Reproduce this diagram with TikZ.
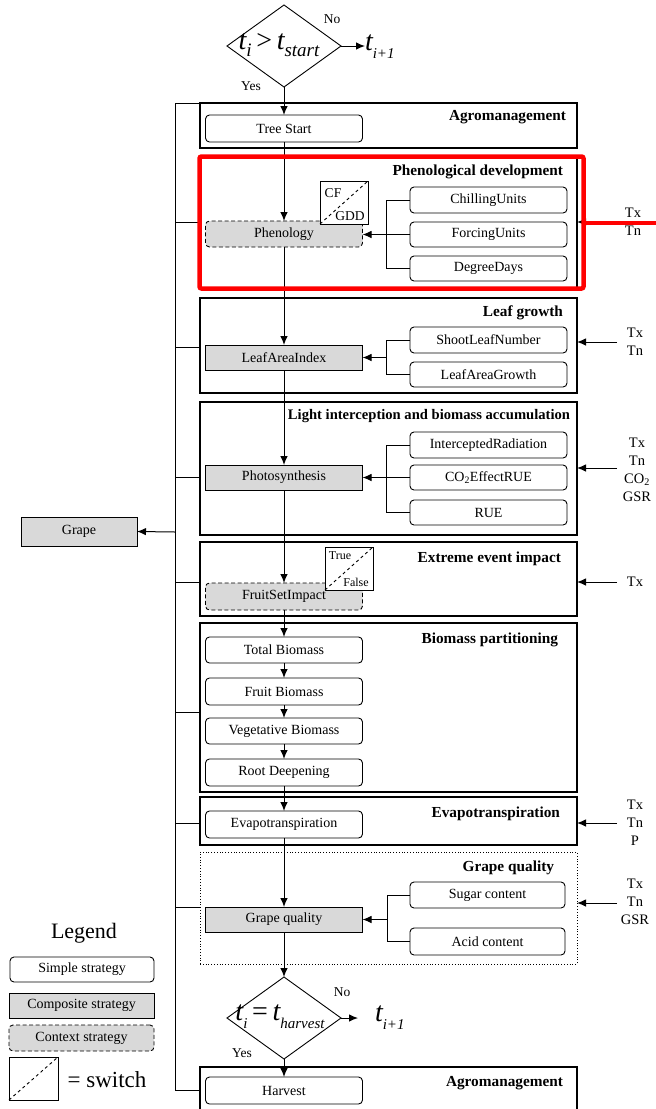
\documentclass[tikz,border=0pt]{standalone}
\usepackage{fontspec}
\setmainfont{Liberation Serif}
\usetikzlibrary{shapes.geometric,arrows.meta}
\definecolor{boxgray}{RGB}{217,217,217}
\definecolor{hlred}{RGB}{255,0,0}
\newcommand\mysub[2]{\raisebox{-0.28em}{\fontsize{#1}{#1}\selectfont\itshape #2}}
\begin{document}
\begin{tikzpicture}[x=1pt,y=-1pt,
  every node/.style={inner sep=0pt,outer sep=0pt},
  base/.style={line width=0.9pt,minimum width=157pt,minimum height=26pt,font=\fontsize{14}{16}\selectfont},
  simple/.style={base,draw,rounded corners=4pt,fill=white},
  composite/.style={base,draw,fill=boxgray},
  context/.style={base,draw,fill=boxgray,rounded corners=4pt,dash pattern=on 4pt off 2.5pt},
  switchbox/.style={draw,fill=white,line width=0.9pt,minimum width=48pt,minimum height=43pt},
  section/.style={draw,line width=1.2pt,minimum width=377pt},
  title/.style={anchor=east,font=\bfseries\fontsize{15.3}{17}\selectfont},
  inputs/.style={align=center,font=\fontsize{14.5}{18}\selectfont},
  small/.style={font=\fontsize{13.5}{15}\selectfont},
  tiny/.style={font=\fontsize{12}{13}\selectfont},
  flow/.style={-{Latex[length=9pt,width=7.5pt]},line width=1pt},
  line/.style={line width=0.9pt},
  decision/.style={draw,diamond,line width=0.9pt,minimum width=114pt,minimum height=82pt},
  mathtext/.style={font=\fontsize{28}{30}\selectfont\itshape}
]
\useasboundingbox (0,0) rectangle (656,1109);
\fill[white] (0,0) rectangle (656,1109);

% ---------- section boxes ----------
\node[section,minimum height=45pt]  (agro1)    at (388.5,125.5) {};
\node[section,minimum height=132pt] (phensec)  at (388.5,223) {};
\node[section,minimum height=95pt]  (leafsec)  at (388.5,345.5) {};
\node[section,minimum height=133pt] (lightsec) at (388.5,468.5) {};
\node[section,minimum height=74pt]  (extsec)   at (388.5,579) {};
\node[section,minimum height=169pt] (biosec)   at (388.5,707.5) {};
\node[section,minimum height=48pt]  (evapsec)  at (388.5,821) {};
\node[draw,line width=0.8pt,dotted,minimum width=377pt,minimum height=112pt] (gqsec) at (388.5,908) {};
\node[section,minimum height=50pt]  (agro2)    at (388.5,1092) {};

% ---------- section titles ----------
\node[title] (t1) at (566,117) {Agromanagement};
\node[title] (t2) at (563,172) {Phenological development};
\node[title] (t3) at (563,313) {Leaf growth};
\node[title,font=\bfseries\fontsize{14.6}{17}\selectfont] (t4) at (570,416) {Light interception and biomass accumulation};
\node[title] (t5) at (561,559) {Extreme event impact};
\node[title] (t6) at (558,640) {Biomass partitioning};
\node[title] (t7) at (560,814) {Evapotranspiration};
\node[title] (t8) at (554,868) {Grape quality};
\node[title] (t9) at (563,1083) {Agromanagement};

% ---------- decisions ----------
\node[decision] (d1) at (284,46) {};
\node[mathtext] (d1t) at (279,45) {t\mysub{19}{i}\,\upshape{>}\,\itshape t\mysub{19}{start}};
\node[mathtext,anchor=west] (n1) at (365,47) {t\mysub{15}{i+1}};
\node[small] (no1) at (332,19) {No};
\node[small] (yes1) at (251,86) {Yes};

\node[decision] (d2) at (284,1018) {};
\node[mathtext] (d2t) at (280,1017) {t\mysub{15}{i}\,\upshape{=}\,\itshape t\mysub{15}{harvest}};
\node[mathtext,anchor=west] (n2) at (375,1018) {t\mysub{15}{i+1}};
\node[small] (no2) at (342,992) {No};
\node[small] (yes2) at (242,1053) {Yes};
\coordinate (n2end) at (358,1018);

% ---------- main column ----------
\node[simple,minimum height=27pt] (tree) at (284,128.5) {Tree Start};
\node[context] (phen) at (284,234) {Phenology};
\node[switchbox] (sw1) at (344,202.5) {};
\draw[line,dashed] (sw1.south west) -- (sw1.north east);
\node[small] (cf) at (333,193) {CF};
\node[small] (gdd) at (350,216) {GDD};

\node[composite,minimum height=25pt] (lai) at (284,357.5) {LeafAreaIndex};
\node[composite,minimum height=25pt] (photo) at (284,477.5) {Photosynthesis};
\node[context,minimum height=27pt] (fsi) at (284,596.5) {FruitSetImpact};
\node[switchbox] (sw2) at (349,568.5) {};
\draw[line,dashed] (sw2.south west) -- (sw2.north east);
\node[tiny] (tru) at (340,556) {True};
\node[tiny] (fal) at (356,582) {False};

\node[simple] (tb) at (284,650) {Total Biomass};
\node[simple,minimum height=27pt] (fb) at (284,691.5) {Fruit Biomass};
\node[simple] (vb) at (284,731) {Vegetative Biomass};
\node[simple,minimum height=27pt] (rd) at (284,772.5) {Root Deepening};
\node[simple,minimum height=27pt] (evap) at (284,824.5) {Evapotranspiration};
\node[composite,minimum height=25pt] (gq) at (284,919.5) {Grape quality};
\node[simple,minimum height=27pt] (harv) at (284,1090.5) {Harvest};

% ---------- right columns ----------
\node[simple] (chill) at (488.5,200) {ChillingUnits};
\node[simple,minimum height=25pt] (forc) at (488.5,234.5) {ForcingUnits};
\node[simple,minimum height=25pt] (deg) at (488.5,268.5) {DegreeDays};
\node[simple] (shoot) at (488.5,340) {ShootLeafNumber};
\node[simple,minimum height=25pt] (lag) at (488.5,374.5) {LeafAreaGrowth};
\node[simple] (irad) at (488.5,445) {InterceptedRadiation};
\node[simple,minimum height=25pt] (co2) at (488.5,477.5) {CO\textsubscript{2}EffectRUE};
\node[simple,minimum height=25pt] (rue) at (488.5,512.5) {RUE};
\node[simple,minimum width=155pt] (sugar) at (487.5,895) {Sugar content};
\node[simple,minimum width=155pt,minimum height=27pt] (acid) at (487.5,941.5) {Acid content};

% ---------- Grape ----------
\node[composite,minimum width=116pt,minimum height=29pt] (grape) at (79,531.5) {Grape};

% ---------- main flow ----------
\draw[flow] (d1.south) -- (tree.north);
\draw[flow] (d1.east) -- (n1.west |- d1.east);
\draw[flow] (tree.south) -- (phen.north);
\draw[flow] (phen.south) -- (lai.north);
\draw[flow] (lai.south) -- (photo.north);
\draw[flow] (photo.south) -- (fsi.north);
\draw[flow] (fsi.south) -- (tb.north);
\draw[flow] (tb.south) -- (fb.north);
\draw[flow] (fb.south) -- (vb.north);
\draw[flow] (vb.south) -- (rd.north);
\draw[flow] (rd.south) -- (evap.north);
\draw[flow] (evap.south) -- (gq.north);
\draw[flow] (gq.south) -- (d2.north);
\draw[flow] (d2.east) -- (n2end);
\draw[flow] (d2.south) -- (harv.north);

% ---------- brackets ----------
\draw[line] (chill.west) -- ++(-24,0) |- (deg.west);
\draw[flow] (forc.west) -- (phen.east |- forc.west);
\draw[line] (shoot.west) -- ++(-24,0) |- (lag.west);
\coordinate (jl) at (386,357.5);
\draw[flow] (jl) -- (lai.east);
\draw[line] (irad.west) -- ++(-24,0) |- (rue.west);
\draw[flow] (co2.west) -- (photo.east);
\draw[line] (sugar.west) -- ++(-23,0) |- (acid.west);
\coordinate (jg) at (387,919.5);
\draw[flow] (jg) -- (gq.east);

% ---------- left bus ----------
\coordinate (bustop) at (175,103);
\coordinate (busbot) at (175,1090.5);
\draw[line] (bustop) -- (busbot);
\draw[line] (bustop) -- (agro1.north west);
\coordinate (b2) at (175,222);  \draw[line] (b2) -- (b2 -| phensec.west);
\coordinate (b3) at (175,347);  \draw[line] (b3) -- (b3 -| leafsec.west);
\coordinate (b4) at (175,477);  \draw[line] (b4) -- (b4 -| lightsec.west);
\coordinate (b5) at (175,532);  \draw[flow] (b5) -- (grape.east);
\coordinate (b6) at (175,582);  \draw[line] (b6) -- (b6 -| extsec.west);
\coordinate (b7) at (175,712);  \draw[line] (b7) -- (b7 -| biosec.west);
\coordinate (b8) at (175,823);  \draw[line] (b8) -- (b8 -| evapsec.west);
\coordinate (b9) at (175,907);  \draw[line] (b9) -- (b9 -| gqsec.west);
\draw[line] (busbot) -- (busbot -| agro2.west);

% ---------- inputs ----------
\coordinate (i1) at (617,222);  \draw[flow] (i1) -- (i1 -| phensec.east);
\coordinate (i2) at (617,342);  \draw[flow] (i2) -- (i2 -| leafsec.east);
\coordinate (i3) at (617,468);  \draw[flow] (i3) -- (i3 -| lightsec.east);
\coordinate (i4) at (617,582);  \draw[flow] (i4) -- (i4 -| extsec.east);
\coordinate (i5) at (617,823);  \draw[flow] (i5) -- (i5 -| evapsec.east);
\coordinate (i6) at (617,903);  \draw[flow] (i6) -- (i6 -| gqsec.east);
\node[inputs] (l1) at (633,221.5) {Tx\\Tn};
\node[inputs] (l2) at (635,341.5) {Tx\\Tn};
\node[inputs] (l3) at (637,470) {Tx\\Tn\\CO\textsubscript{2}\\GSR};
\node[inputs] (l4) at (635,582) {Tx};
\node[inputs] (l5) at (635,823) {Tx\\Tn\\P};
\node[inputs] (l6) at (635,902) {Tx\\Tn\\GSR};

% ---------- legend ----------
\node[font=\fontsize{22}{24}\selectfont] (leg) at (84,933) {Legend};
\node[simple,minimum width=144pt,minimum height=25pt] (ls) at (82,969.5) {Simple strategy};
\node[composite,minimum width=145pt,minimum height=25pt] (lc) at (81.5,1005.5) {Composite strategy};
\node[context,minimum width=145pt] (lx) at (81.5,1038) {Context strategy};
\node[switchbox,minimum width=49pt] (lsw) at (33.5,1078.5) {};
\draw[line,dashed] (lsw.south west) -- (lsw.north east);
\node[font=\fontsize{23}{24}\selectfont] (lswt) at (107,1080) {= switch};

% ---------- red highlight ----------
\node[draw=hlred,line width=4.5pt,rounded corners=2pt,minimum width=384pt,minimum height=132pt] (hl) at (391.5,222.5) {};
\coordinate (redend) at (660,222.5);
\draw[hlred,line width=4pt] (hl.east) -- (redend);
\end{tikzpicture}
\end{document}
